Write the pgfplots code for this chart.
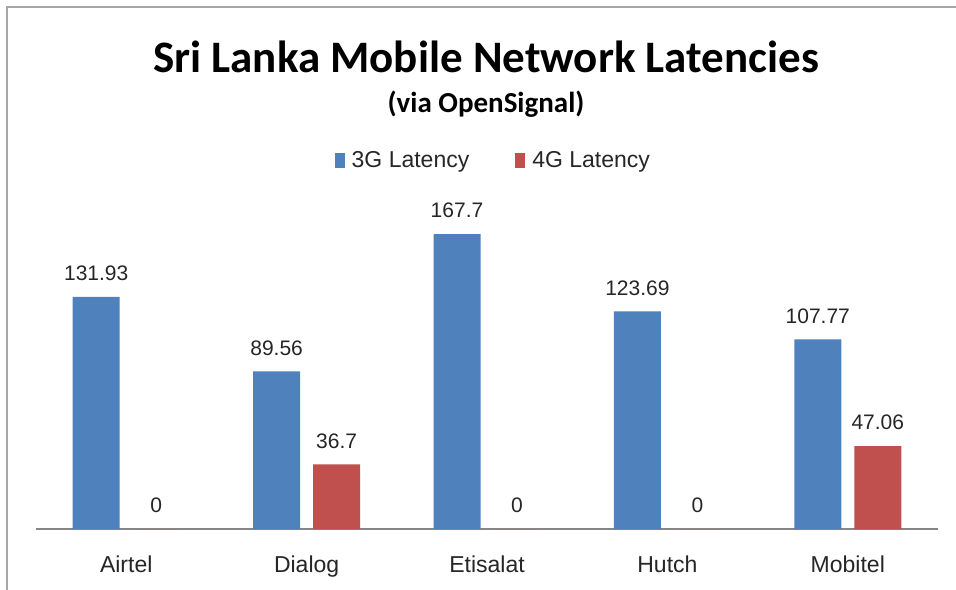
\documentclass[border=0pt]{standalone}
\usepackage{fontspec}
\setmainfont{Liberation Sans}
\newfontfamily\titlefont{Carlito}
\usepackage{pgfplots}
\pgfplotsset{compat=1.18}
\definecolor{barblue}{HTML}{4F81BD}
\definecolor{barred}{HTML}{C0504D}
\definecolor{framegray}{HTML}{A6A6A6}
\definecolor{axisgray}{HTML}{868686}
\definecolor{labeltext}{HTML}{262626}
\begin{document}
\begin{tikzpicture}
\useasboundingbox (0bp,0bp) rectangle (956bp,590bp);
\fill[white] (0bp,0bp) rectangle (956bp,590bp);
\draw[framegray,line width=1.2bp] (7bp,0bp) -- (7bp,583bp) -- (956bp,583bp);
\node[font={\titlefont\bfseries\fontsize{45bp}{50bp}\selectfont}] at (486bp,533bp) {Sri Lanka Mobile Network Latencies};
\node[font={\titlefont\bfseries\fontsize{29bp}{33bp}\selectfont}] at (486bp,486bp) {(via OpenSignal)};
\begin{axis}[
  at={(126.2bp,61bp)}, anchor=origin,
  scale only axis,
  width=902bp, height=316.6bp,
  ymin=0, ymax=180,
  xmin=-0.5, xmax=4.5,
  axis x line*=bottom,
  axis y line=none,
  axis line style={axisgray, line width=1.2bp},
  xtick={0,1,2,3,4},
  xticklabels={Airtel,Dialog,Etisalat,Hutch,Mobitel},
  xtick style={draw=none},
  xticklabel style={font=\fontsize{23bp}{26bp}\selectfont, anchor=base, yshift=-39bp, text=labeltext},
  ybar, bar width=47bp,
  clip=false,
  nodes near coords,
  every node near coord/.append style={font=\fontsize{21bp}{24bp}\selectfont, anchor=south, inner sep=0pt, yshift=16bp, text=labeltext},
  point meta=explicit symbolic,
  legend columns=2,
  legend style={at={(0.507,1.164)}, anchor=center, draw=none, fill=none,
    font=\fontsize{23bp}{26bp}\selectfont, text=labeltext,
    /tikz/every odd column/.append style={column sep=5bp},
    /tikz/every even column/.append style={column sep=44bp}},
  legend image code/.code={\fill[#1] (0bp,-7.5bp) rectangle (10bp,7.5bp);},
]
\addplot[fill=barblue, draw=none, bar shift=-30bp] coordinates {(0,131.93)[131.93] (1,89.56)[89.56] (2,167.7)[167.7] (3,123.69)[123.69] (4,107.77)[107.77]};
\addplot[fill=barred, draw=none, bar shift=30bp] coordinates {(0,0)[0] (1,36.7)[36.7] (2,0)[0] (3,0)[0] (4,47.06)[47.06]};
\legend{3G Latency, 4G Latency}
\end{axis}
\end{tikzpicture}
\end{document}
